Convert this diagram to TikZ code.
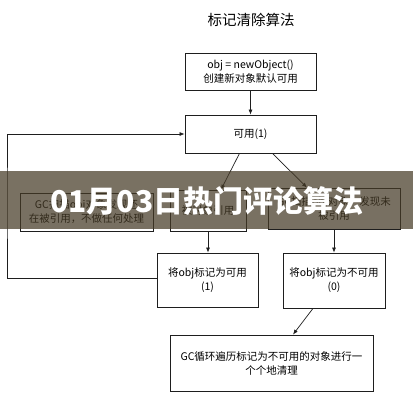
\documentclass[tikz,border=0pt]{standalone}
\usepackage{fontspec}
\newfontfamily\cjk{Noto Sans CJK SC}
\usepackage{tikz}
\usetikzlibrary{arrows.meta,positioning,calc}
\definecolor{linegray}{RGB}{30,30,30}
\definecolor{bannerbrown}{RGB}{69,58,38}

\begin{document}
\begin{tikzpicture}[
  x=1pt, y=-1pt,
  box/.style={rectangle, draw=linegray, line width=0.8pt, fill=white, inner sep=0pt, align=center, font=\cjk\fontsize{10.5}{14}\selectfont},
  arrow/.style={-{Latex[length=5pt,width=4pt]}, line width=0.7pt, linegray}
]
\useasboundingbox (0,0) rectangle (413,400);

\node[font=\cjk\fontsize{14.5}{16}\selectfont] (title) at (251,20) {标记清除算法};

\node[box, minimum width=131pt, minimum height=37pt] (newobj) at (250.5,71.5) {obj = newObject()\\ 创建新对象默认可用};
\node[box, minimum width=131pt, minimum height=38pt] (avail) at (250.5,134) {可用(1)};
\node[box, minimum width=133pt, minimum height=38pt] (keep) at (86.5,212) {GC扫描obj对象发现还\\ 在被引用，不做任何处理};
\node[box, minimum width=76pt, minimum height=41pt] (scan1) at (208,210.5) {被对象引用};
\node[box, minimum width=132pt, minimum height=41pt] (scan0) at (334,208.5) {GC扫描obj对象，发现未\\ 被引用};
\node[box, minimum width=101pt, minimum height=54pt] (mark1) at (207.5,280) {将obj标记为可用\\ (1)};
\node[box, minimum width=102pt, minimum height=55pt] (mark0) at (334,280.5) {将obj标记为不可用\\ (0)};
\node[box, minimum width=203pt, minimum height=56pt] (clean) at (271.5,363) {GC循环遍历标记为不可用的对象进行一\\ 个个地清理};
\coordinate (loop) at (7,200);

\draw[arrow] (newobj) -- (avail);
\draw[arrow] ([xshift=-11pt]avail.south) -- ([xshift=13pt]scan1.north);
\draw[arrow] ([xshift=22pt]avail.south) -- ([xshift=-27pt]scan0.north);
\draw[arrow] (scan1.south) -- (scan1.south |- mark1.north);
\draw[arrow] (scan0) -- (mark0);
\draw[arrow] ([xshift=-21pt]mark0.south) -- ([xshift=21.5pt]clean.north);
\draw[arrow] ([yshift=2pt]mark1.west) -| (loop) |- (avail.west);

% banner laid over the picture
\fill[bannerbrown, fill opacity=0.72] (0,171) rectangle (413,229);
\node[text=white, font=\cjk\bfseries\fontsize{30}{32}\selectfont] (banner) at (207,201) {01月03日热门评论算法};
\end{tikzpicture}
\end{document}
